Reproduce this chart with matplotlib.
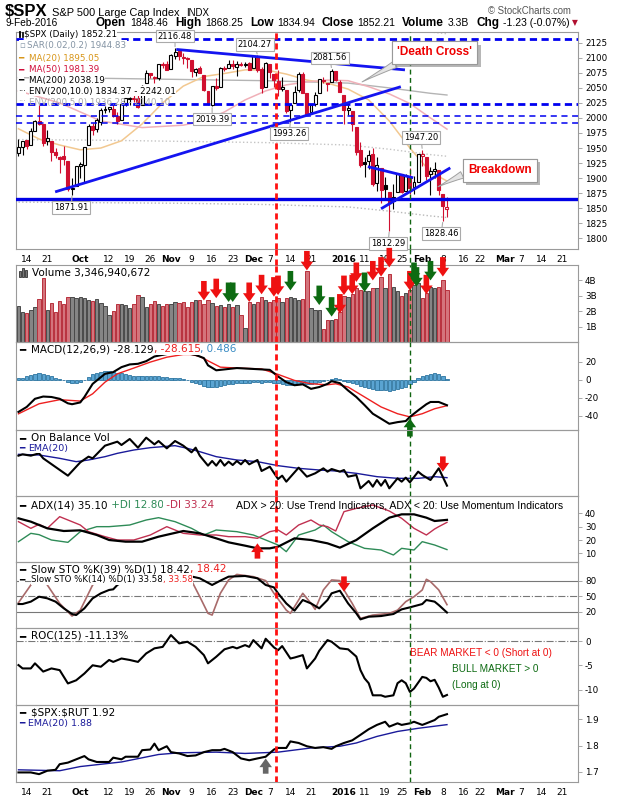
import matplotlib
matplotlib.use("Agg")
import matplotlib.pyplot as plt
import matplotlib.patheffects as pe
import matplotlib.transforms as mtransforms
from matplotlib.lines import Line2D
from matplotlib.patches import Rectangle
import numpy as np
import pandas as pd

plt.rcParams["font.family"] = ["DejaVu Sans"]
plt.rcParams["axes.unicode_minus"] = False

FIG_W, FIG_H = 620, 800
RED = "#d01030"

# trading calendar, x axis = trading day number (0 = 10 Sep 2015)
holidays = pd.to_datetime(["2015-11-26", "2015-12-25", "2016-01-01",
                           "2016-01-18", "2016-02-15", "2016-03-25"])
days = pd.bdate_range("2015-09-10", "2016-03-24")
days = days[~days.isin(holidays)]

tick_dates = ["2015-09-14", "2015-09-21", "2015-10-01", "2015-10-12", "2015-10-19",
              "2015-10-26", "2015-11-02", "2015-11-09", "2015-11-16", "2015-11-23",
              "2015-12-01", "2015-12-07", "2015-12-14", "2015-12-21", "2016-01-04",
              "2016-01-11", "2016-01-19", "2016-01-25", "2016-02-01", "2016-02-08",
              "2016-02-16", "2016-02-22", "2016-03-01", "2016-03-07", "2016-03-14",
              "2016-03-21"]
tick_labels = ["14", "21", "Oct", "12", "19", "26", "Nov", "9", "16", "23", "Dec", "7",
               "14", "21", "2016", "11", "19", "25", "Feb", "8", "16", "22", "Mar", "7",
               "14", "21"]
bold_labels = {"Oct", "Nov", "Dec", "2016", "Feb", "Mar"}

# ---- daily OHLC ----
opens = [1941.59, 1951.45, 1963.06, 1955.10, 1978.02, 1995.33, 1989.66, 1960.84, 1961.39, 1943.24,
         1934.81, 1935.93, 1929.18, 1881.90, 1887.14, 1919.65, 1921.77, 1954.33, 1986.63, 1982.34,
         1994.01, 2013.73, 2015.65, 2015.00, 2003.66, 1996.47, 2024.37, 2031.73, 2033.13, 2033.47,
         2021.88, 2058.19, 2075.08, 2068.75, 2066.48, 2088.35, 2090.00, 2080.76, 2102.63, 2110.60,
         2101.68, 2098.60, 2096.56, 2077.19, 2083.41, 2072.29, 2044.64, 2022.08, 2053.67, 2051.99,
         2083.70, 2082.82, 2089.41, 2084.42, 2089.30, 2088.82, 2090.95, 2082.93, 2101.71, 2080.71,
         2051.24, 2090.42, 2073.39, 2061.17, 2047.93, 2047.27, 2013.37, 2025.55, 2046.50, 2073.76,
         2040.81, 2010.27, 2023.15, 2042.20, 2063.52, 2057.77, 2060.54, 2077.34, 2060.59, 2038.20,
         2013.78, 2011.71, 1985.32, 1945.97, 1926.12, 1927.83, 1940.34, 1891.68, 1916.68, 1888.66,
         1876.18, 1861.46, 1877.40, 1906.28, 1878.79, 1902.52, 1885.22, 1894.00, 1936.94, 1935.26,
         1907.07, 1911.67, 1913.07, 1873.25, 1848.46]
highs = [1965.29, 1961.05, 1963.06, 1983.19, 1997.26, 2020.86, 1989.66, 1979.64, 1961.39, 1949.52,
         1937.17, 1952.89, 1929.18, 1899.48, 1920.53, 1927.21, 1951.36, 1989.17, 1991.62, 1999.31,
         2016.50, 2020.13, 2018.66, 2022.34, 2009.56, 2024.15, 2033.54, 2034.45, 2039.12, 2037.97,
         2055.20, 2079.74, 2075.14, 2070.37, 2090.35, 2092.52, 2094.32, 2106.20, 2116.48, 2114.59,
         2108.78, 2101.91, 2096.56, 2083.67, 2086.94, 2072.29, 2044.64, 2053.22, 2066.69, 2085.31,
         2086.74, 2097.06, 2095.61, 2094.12, 2093.00, 2093.29, 2093.81, 2103.37, 2104.27, 2085.00,
         2093.84, 2090.42, 2073.85, 2080.33, 2067.65, 2047.27, 2022.92, 2053.87, 2076.72, 2076.37,
         2040.81, 2022.90, 2042.74, 2064.73, 2067.36, 2057.77, 2081.56, 2077.34, 2062.54, 2038.20,
         2021.94, 2011.71, 1985.32, 1960.40, 1935.65, 1947.38, 1950.33, 1934.47, 1916.68, 1901.44,
         1876.18, 1889.85, 1908.85, 1906.28, 1906.73, 1916.99, 1902.96, 1940.24, 1947.20, 1935.26,
         1918.01, 1927.35, 1913.07, 1873.25, 1868.25]
lows = [1937.19, 1939.19, 1948.27, 1954.30, 1977.93, 1987.67, 1953.45, 1955.80, 1929.22, 1932.57,
        1908.92, 1921.50, 1879.21, 1871.91, 1887.14, 1900.70, 1893.70, 1954.33, 1971.99, 1976.44,
        1987.53, 2007.61, 2010.55, 2001.78, 1990.73, 1996.47, 2020.46, 2022.31, 2026.61, 2017.22,
        2021.88, 2058.19, 2066.53, 2058.84, 2063.11, 2082.63, 2079.34, 2080.76, 2097.51, 2096.98,
        2090.41, 2083.74, 2068.24, 2069.91, 2074.85, 2045.66, 2022.02, 2019.39, 2045.90, 2051.99,
        2078.76, 2082.82, 2081.39, 2070.29, 2086.30, 2084.13, 2080.41, 2082.93, 2077.11, 2042.35,
        2051.24, 2066.78, 2052.32, 2036.53, 2045.67, 2008.80, 1993.26, 2025.55, 2042.43, 2041.66,
        2005.33, 2005.93, 2020.49, 2042.20, 2058.73, 2044.20, 2060.54, 2061.97, 2043.62, 1989.68,
        2004.17, 1979.05, 1938.83, 1918.46, 1901.10, 1914.35, 1886.41, 1878.93, 1857.83, 1864.60,
        1812.29, 1848.98, 1877.40, 1875.97, 1878.79, 1872.70, 1873.65, 1894.00, 1920.03, 1897.29,
        1872.23, 1900.52, 1872.65, 1828.46, 1834.94]
closes = [1952.29, 1961.05, 1953.03, 1978.09, 1995.31, 1990.20, 1958.03, 1966.97, 1942.74, 1938.76,
          1932.24, 1931.34, 1881.77, 1884.09, 1920.03, 1923.82, 1951.36, 1987.05, 1979.92, 1995.83,
          2013.43, 2014.89, 2017.46, 2003.69, 1994.24, 2023.86, 2033.11, 2033.66, 2030.77, 2018.94,
          2052.51, 2075.15, 2071.18, 2065.89, 2090.35, 2089.41, 2079.36, 2104.05, 2109.79, 2102.31,
          2099.93, 2099.20, 2078.58, 2081.72, 2075.00, 2045.97, 2023.04, 2053.19, 2050.44, 2083.58,
          2081.24, 2089.17, 2086.59, 2089.14, 2088.87, 2090.11, 2080.41, 2102.63, 2079.51, 2049.62,
          2091.69, 2077.07, 2063.59, 2047.62, 2052.23, 2012.37, 2021.94, 2043.41, 2073.07, 2041.89,
          2005.55, 2021.15, 2038.97, 2064.29, 2060.99, 2056.50, 2078.36, 2063.36, 2043.94, 2012.66,
          2016.71, 1990.26, 1943.09, 1922.03, 1923.67, 1938.68, 1890.28, 1921.84, 1880.33, 1881.33,
          1859.33, 1868.99, 1906.90, 1877.08, 1903.63, 1882.95, 1893.36, 1940.24, 1939.38, 1903.03,
          1912.53, 1915.45, 1880.05, 1853.44, 1852.21]
volume_b = [2.32, 1.97, 1.86, 2.10, 2.25, 2.76, 4.15, 2.10, 2.52, 1.93,
            2.63, 2.45, 2.91, 2.91, 2.84, 2.91, 2.84, 2.73, 2.63, 2.76,
            2.54, 2.32, 1.78, 2.04, 2.50, 2.50, 2.41, 2.21, 2.45, 3.08,
            2.91, 2.25, 2.50, 2.65, 2.50, 2.36, 2.50, 2.45, 2.60, 2.55,
            2.60, 2.30, 2.60, 2.75, 2.75, 2.50, 2.75, 2.55, 2.35, 2.40,
            2.30, 2.50, 2.30, 2.40, 1.75, 0.90, 2.60, 2.45, 2.60, 2.95,
            2.75, 2.60, 2.75, 2.85, 2.60, 2.85, 2.95, 2.85, 2.75, 2.80,
            4.60, 2.20, 2.10, 2.10, 0.85, 1.45, 1.45, 1.50, 1.95, 3.00,
            2.90, 3.10, 3.50, 3.40, 3.30, 3.30, 3.50, 3.50, 4.20, 3.50,
            4.40, 3.60, 3.30, 3.00, 3.20, 3.40, 3.70, 3.85, 2.85, 3.20,
            3.55, 3.50, 3.55, 4.00, 3.40]

# ---- overlays on the price panel (day, value) ----
ma20_day = [0, 5, 10, 15, 20, 25, 30, 35, 40, 45, 50, 55, 60, 65, 70, 75, 80, 85, 90, 95, 100, 104]
ma20_val = [1982, 1965, 1955, 1947, 1950, 1962, 1990, 2025, 2053, 2069, 2074, 2080, 2080, 2073,
            2063, 2058, 2048, 2030, 1995, 1950, 1910, 1895.05]
ma50_day = [0, 10, 20, 30, 40, 45, 50, 55, 60, 65, 70, 75, 80, 85, 90, 95, 100, 104]
ma50_val = [2045, 2025, 1995, 1984, 1988, 1995, 2010, 2030, 2045, 2055, 2060, 2063, 2062, 2052,
            2040, 2024, 2000, 1981.39]
ma200_day = [0, 20, 40, 60, 80, 90, 100, 104]
ma200_val = [2067, 2066, 2064, 2062, 2058, 2050, 2041, 2038.19]
env5_lo = [1964, 1963, 1961, 1959, 1955, 1948, 1939, 1936.28]
env5_hi = [2170, 2169, 2167, 2165, 2161, 2153, 2143, 2140.10]
env10_lo = [1860, 1859, 1858, 1856, 1852, 1845, 1837, 1834.37]

dashed_levels = [2132, 2023, 2004, 1992]
dashed_widths = [2.0, 2.0, 1.1, 1.1]
support_level = 1866
trend_lines = [((38.3, 2114), (93.8, 2080)), ((8.9, 1877), (92.8, 2052)),
               ((84.8, 1919), (95.8, 1900.5)), ((88.0, 1849), (104.8, 1917))]
# (label, day, price, label day, label price)
price_tags = [("2116.48", 38, 2116.48, 38.0, 2136),
              ("2104.27", 58, 2104.27, 57.4, 2122),
              ("2081.56", 76, 2081.56, 75.6, 2100),
              ("2019.39", 47, 2019.39, 47.0, 1998),
              ("1993.26", 66, 1993.26, 65.7, 1974),
              ("1871.91", 13, 1871.91, 12.8, 1851),
              ("1812.29", 90, 1812.29, 89.7, 1791),
              ("1947.20", 98, 1947.20, 97.7, 1967.5),
              ("1828.46", 103, 1828.46, 102.6, 1808)]

# ---- volume signal arrows (day, volume B at arrow tip) ----
vol_red_day = [45, 48, 56, 59, 62, 63, 70, 78, 79, 81, 82, 86, 88, 90, 95, 99, 103]
vol_red_tip = [2.7, 2.85, 2.6, 3.1, 2.95, 3.05, 4.65, 1.85, 3.05, 3.1, 3.9, 4.0, 4.25, 4.85, 3.35, 3.1, 4.25]
vol_green_day = [51, 52, 66, 73, 76, 84, 96, 96.6, 100]
vol_green_tip = [2.6, 2.6, 3.35, 2.4, 1.65, 3.25, 3.9, 3.6, 4.0]

# ---- MACD(12,26,9) ----
macd_day = [0, 2, 4, 6, 8, 10, 12, 13, 15, 16, 18, 21, 23, 25, 27, 29, 31, 33, 36, 40, 43, 45,
            46, 48, 49, 53, 57, 61, 63, 65, 67, 69, 71, 73, 75, 76, 78, 80, 82, 84, 86, 88, 90,
            92, 94, 95, 97, 99, 100, 102, 104]
macd_val = [-35.5, -30, -21, -18.5, -19, -21, -26, -27, -25, -19, -4.5, 6.6, 8.5, 14, 17, 17.7,
            20.6, 25.8, 28.5, 30, 27.5, 24, 16, 10.5, 11, 13, 12, 11, 3.7, -2.6, -6, -5, -10, -8,
            -4.5, -1.5, -3.7, -11.8, -19, -28, -37.5, -43, -48.6, -46.8, -45.6, -41, -33.8, -27,
            -24.5, -24.5, -28.13]
signal_day = [0, 5, 10, 15, 18, 21, 24, 28, 32, 36, 40, 42, 44, 46, 49, 53, 59, 63, 67, 71, 75,
              77, 80, 84, 88, 92, 95, 98, 101, 104]
signal_val = [-37.6, -26.5, -22, -23.5, -15.5, -2.6, 6.6, 13, 19.6, 25, 28, 28, 25.8, 21, 14, 13,
              12, 6, -0.7, -4.4, -5.5, -4.4, -8, -19, -30, -37.5, -41, -37.5, -32, -28.62]
macd_hist = [1.5, 2.5, 4, 5.5, 6.5, 7, 6.5, 5.5, 4, 2.5,
             1, -0.5, -2, -3, -3, -2, 0, 3, 6, 8,
             9, 9.5, 9.5, 9, 8, 7, 6, 5, 4.5, 4,
             4, 4, 4, 4, 4, 3.5, 3, 2.5, 2, 1.5,
             0.5, -0.5, -2, -3.5, -5, -6.5, -7.5, -8, -7.5, -7,
             -6, -5, -4.5, -4, -3.5, -3, -3, -2, -2.5, -3.5,
             -2.5, -2.5, -3, -4, -4.5, -5.5, -6, -5.5, -4.5, -4,
             -5, -4.5, -3.5, -2, -1, 0, 1, 1.5, 1, -1,
             -2, -3.5, -5, -7, -8.5, -9.5, -10.5, -11, -11.5, -11.5,
             -12, -11.5, -10.5, -9, -7.5, -5, -2, 1.5, 4, 5.5,
             6.5, 7, 6.5, 4.5, 0.49]

# ---- On Balance Volume (B, arbitrary base) ----
obv_day = [0, 1, 3, 5, 6, 12, 15, 17, 18, 21, 24, 25, 27, 29, 31, 33, 34, 36, 38, 40, 42, 43, 44,
           46, 47, 48, 49, 50, 51, 52, 53, 54, 55, 56, 58, 59, 61, 63, 64, 65, 68, 70, 72, 74, 75,
           76, 78, 79, 80, 82, 83, 85, 86, 87, 88, 89, 90, 92, 93, 94, 95, 97, 98, 100, 102, 104]
obv_val = [10.8, 11.2, 10.8, 11.5, 10.0, 4.8, 8.8, 10.5, 10.0, 13.8, 15.0, 14.0, 15.8, 13.2, 16.2,
           14.2, 15.2, 13.0, 15.2, 13.8, 11.8, 13.2, 10.8, 7.8, 9.2, 7.8, 9.5, 7.8, 9.0, 8.0, 9.2,
           8.2, 9.5, 8.2, 9.5, 6.2, 7.5, 3.8, 4.8, 3.0, 7.2, 4.5, 5.5, 7.0, 6.0, 6.8, 6.0, 6.5, 4.5,
           5.0, 1.0, 3.2, 1.5, 3.5, 1.8, 3.5, 1.0, 4.0, 3.0, 4.2, 2.8, 6.0, 5.0, 3.5, 7.0, 1.8]
obv_ema_day = [0, 5, 10, 14, 17, 21, 24, 28, 32, 35, 38, 41, 44, 48, 53, 58, 63, 68, 73, 77, 82,
               87, 92, 97, 101, 104]
obv_ema_val = [11.2, 11.0, 10.0, 9.0, 9.5, 10.5, 11.5, 12.5, 13.2, 13.5, 13.8, 13.0, 12.0, 10.5,
               9.5, 9.0, 7.8, 7.0, 6.5, 6.2, 5.5, 4.5, 4.0, 4.0, 4.5, 4.2]

# ---- ADX(14) ----
adx_day = [0, 3, 7, 11, 15, 19, 22, 26, 30, 34, 40, 44, 48, 51, 55, 58, 61, 63, 67, 71, 75, 78,
           82, 86, 90, 93, 96, 99, 101, 104]
adx_val = [36.25, 33.75, 28.75, 26.75, 27.25, 23.75, 20, 18.75, 18.75, 22.5, 26.75, 25, 21.25,
           18.25, 15.75, 13.75, 13.75, 15, 21.25, 20, 17.5, 14.25, 20, 28.75, 36.75, 39.25, 39.25,
           36.75, 34.25, 35.10]
pdi_day = [0, 3, 5, 8, 12, 15, 19, 22, 27, 31, 34, 38, 42, 45, 48, 53, 57, 60, 63, 65, 68, 72,
           74, 76, 80, 84, 88, 91, 93, 96, 98, 101, 104]
pdi_val = [18.75, 25, 24, 20, 18.25, 26.25, 30, 30, 31.25, 35, 36.75, 33.75, 28.75, 23.75, 27.5,
           26.25, 23.75, 20, 16.25, 11.25, 23.75, 27.5, 31.25, 26.25, 18.75, 13.75, 12.5, 8.75,
           13.75, 12.5, 18.75, 16.25, 12.80]
mdi_day = [0, 3, 5, 7, 10, 13, 15, 17, 21, 24, 28, 32, 36, 40, 44, 48, 51, 55, 58, 61, 63, 65,
           68, 71, 73, 75, 77, 79, 82, 86, 90, 93, 96, 99, 101, 102, 104]
mdi_val = [33.75, 28.75, 31.75, 28.75, 37.5, 33.75, 31.25, 26.25, 22.5, 20, 20, 23.75, 30, 25,
           23.75, 23.75, 22.5, 22.5, 21.25, 26.25, 27.5, 23.75, 31.25, 35, 31.25, 30, 26.75,
           41.25, 43.75, 46.25, 41.75, 36.25, 28.75, 23.75, 28.25, 30, 33.24]

# ---- Slow stochastics ----
k39_day = [0, 1, 3, 5, 7, 9, 11, 13, 14, 16, 18, 20, 22, 23, 24, 27, 31, 35, 39, 42, 44, 47, 49,
           51, 55, 58, 60, 62, 63, 65, 67, 69, 71, 73, 75, 76, 78, 80, 82, 83, 85, 88, 91, 93, 95,
           98, 99, 101, 102, 104]
k39_val = [34.8, 34.8, 39.4, 49, 45.8, 39.4, 26.5, 15.5, 13.5, 26.5, 45.8, 55.5, 62, 63.2, 71.6,
           86, 92, 95, 93, 88, 84.5, 71.6, 80, 87.7, 89, 84.5, 71.6, 67, 55.5, 36, 22, 42.6, 36,
           26.5, 42.6, 55.5, 60.6, 36, 16.8, 5.2, 10.3, 11.6, 15.5, 24.5, 28.4, 34.8, 42.6, 39.4,
           32.9, 18.42]
k14_day = [0, 3, 5, 7, 10, 13, 15, 18, 21, 25, 30, 34, 39, 42, 44, 46, 47, 49, 51, 53, 57, 60,
           62, 65, 66, 68, 69, 71, 72, 74, 76, 78, 79, 81, 83, 86, 90, 92, 94, 96, 98, 99, 100,
           102, 104]
k14_val = [37.4, 71.6, 88, 71.6, 36, 11.6, 23, 71.6, 90, 95, 85, 92, 96, 80, 49, 16.8, 13.5, 55.5,
           81.3, 92, 87.7, 80, 55.5, 23, 16.8, 42.6, 55.5, 36, 24.5, 62, 81.3, 80, 62, 36, 7.1,
           13.5, 16.8, 23, 39.4, 49, 62, 82.6, 78, 62, 33.58]

# ---- ROC(125) % ----
roc_day = [0, 1, 3, 4, 6, 8, 10, 12, 14, 16, 18, 20, 22, 23, 25, 27, 29, 31, 33, 35, 37, 39, 41,
           43, 45, 46, 48, 50, 52, 53, 55, 56, 57, 59, 60, 62, 63, 64, 66, 67, 69, 70, 72, 73, 75,
           76, 78, 80, 82, 83, 84, 85, 86, 88, 89, 91, 92, 93, 94, 95, 96, 98, 99, 100, 101, 102,
           103, 104]
roc_val = [-4.96, -5.65, -5.65, -4.6, -6.3, -5.65, -6, -8.75, -8.1, -6.7, -5, -5.3, -3.9, -4.3,
           -3.6, -3.9, -4.3, -2.55, -1.5, -1.2, 1.24, -0.48, -0.14, -1.2, -2.9, -4.6, -3.24, -1.7,
           -1.2, -1.5, -0.83, -1.2, 0.2, -1.5, 0.48, -1.3, -1.9, -1.03, -3.6, -3.4, -2.9, -5.65,
           -3.6, -2.0, 0.2, -0.14, -1.5, -1.7, -3.2, -6.0, -7.7, -8.7, -11.2, -11.2, -11.5, -11.2,
           -8.7, -8.1, -8.7, -10.5, -9.8, -7.4, -7.6, -8.3, -8.0, -9.6, -11.5, -11.13]

# ---- $SPX:$RUT ratio ----
ratio_day = [0, 3, 5, 7, 9, 10, 12, 14, 16, 17, 19, 22, 23, 25, 26, 29, 30, 32, 33, 34, 36, 37,
             39, 41, 43, 45, 47, 49, 50, 52, 54, 56, 58, 60, 62, 63, 65, 66, 68, 70, 72, 74, 76,
             77, 79, 81, 83, 85, 87, 89, 90, 92, 93, 95, 96, 98, 99, 101, 102, 104]
ratio_val = [1.6975, 1.6975, 1.691, 1.704, 1.7075, 1.729, 1.735, 1.7475, 1.76, 1.7475, 1.7375,
             1.7375, 1.754, 1.7475, 1.7575, 1.7575, 1.7825, 1.785, 1.8075, 1.7825, 1.7975, 1.775,
             1.77, 1.76, 1.7625, 1.775, 1.7825, 1.7825, 1.7875, 1.775, 1.751, 1.744, 1.751,
             1.7575, 1.785, 1.791, 1.791, 1.816, 1.81, 1.7975, 1.791, 1.794, 1.7875, 1.7975, 1.81,
             1.82, 1.841, 1.8625, 1.879, 1.891, 1.8725, 1.885, 1.879, 1.885, 1.891, 1.879, 1.885,
             1.8975, 1.91, 1.92]
ratio_ema_day = [0, 10, 15, 25, 34, 39, 48, 55, 63, 71, 78, 82, 87, 92, 97, 104]
ratio_ema_val = [1.7075, 1.704, 1.72, 1.7375, 1.766, 1.7725, 1.775, 1.77, 1.775, 1.791, 1.7975,
                 1.81, 1.835, 1.854, 1.866, 1.88]

event_red_day = 62.5
event_green_day = 95

# ================================================================
fig = plt.figure(figsize=(FIG_W / 100, FIG_H / 100), dpi=100)
renderer = fig.canvas.get_renderer()


def panel(top, bottom):
    ax = fig.add_axes([16 / FIG_W, 1 - bottom / FIG_H, 562 / FIG_W, (bottom - top) / FIG_H])
    ax.set_facecolor("none")
    ax.set_xlim(-0.6, 135.8)
    for s in ax.spines.values():
        s.set_color("#9a9a9a")
        s.set_linewidth(0.8)
    ax.tick_params(axis="y", left=False, labelleft=False, right=True, labelright=True,
                   length=3, width=0.6, color="#9a9a9a", labelsize=6.3, pad=2)
    ax.tick_params(axis="x", bottom=False, labelbottom=False)
    return ax


def put(x, y, s, color="black", size=7.5, weight="normal", family="DejaVu Sans", box=True):
    t = fig.text(x / FIG_W, 1 - y / FIG_H, s, color=color, fontsize=size, weight=weight,
                 family=family, ha="left", va="center", zorder=10)
    if box:
        t.set_bbox(dict(fc="white", ec="none", pad=0.3))
    return x + t.get_window_extent(renderer).width


def row(x, y, parts, size=7.5, box=True):
    for s, c in parts:
        x = put(x, y, s, c, size, box=box)


def icon_box(x, y, w, hgt, fc, ec):
    # small legend icon drawn in figure pixels (top-left corner x, y)
    fig.add_artist(Rectangle((x / FIG_W, 1 - (y + hgt) / FIG_H), w / FIG_W, hgt / FIG_H,
                             transform=fig.transFigure, fc=fc, ec=ec, lw=0.6, zorder=11))


def arrow(ax, day, tip, color, down=True, length=14):
    ax.annotate("", xy=(day, tip), xytext=(0, length if down else -length),
                textcoords="offset points", annotation_clip=False, zorder=8,
                arrowprops=dict(arrowstyle="simple,head_length=0.7,head_width=1.0,tail_width=0.45",
                                mutation_scale=9, fc=color, ec="none", shrinkA=0, shrinkB=0))


def date_labels(ax):
    ax.set_xticks(tick_pos)
    ax.set_xticklabels(tick_labels)
    ax.tick_params(axis="x", labelbottom=True, labelsize=6.5, pad=1)
    for t in ax.get_xticklabels():
        if t.get_text() in bold_labels:
            t.set_fontweight("bold")


x = np.arange(len(closes))
o, h, l, c = (np.array(v) for v in (opens, highs, lows, closes))
prev = np.r_[np.nan, c[:-1]]
down_day = c < prev
tick_pos = [days.get_loc(pd.Timestamp(d)) for d in tick_dates]

# ---- price panel ----
ax_p = panel(32, 249)
ax_p.set_ylim(1782, 2143)
ax_p.set_yticks(np.arange(1800, 2126, 25))
ax_p.plot(ma200_day, ma200_val, color="#b4b4b4", lw=1, zorder=1)
ax_p.plot(ma200_day, env5_lo, color="#c4c4c4", lw=1, ls=":", zorder=1)
ax_p.plot(ma200_day, env5_hi, color="#c4c4c4", lw=1, ls=":", zorder=1)
ax_p.plot(ma200_day, env10_lo, color="#b8b8b8", lw=1, ls=":", zorder=1)
ax_p.plot(ma20_day, ma20_val, color="#f2c890", lw=1.1, zorder=1)
ax_p.plot(ma50_day, ma50_val, color="#f0b0b8", lw=1.1, zorder=1)

for lev, lw in zip(dashed_levels, dashed_widths):
    ax_p.axhline(lev, color="#0000f0", lw=lw, dashes=(2.6, 1.6) if lw > 1.5 else (4, 3), zorder=5)
ax_p.axhline(support_level, color="#0000e6", lw=2.4, zorder=5)
for (x0, y0), (x1, y1) in trend_lines:
    ax_p.plot([x0, x1], [y0, y1], color="#1414f0", lw=2.0, zorder=5, solid_capstyle="butt")

col = np.where(down_day, RED, "black")
ax_p.vlines(x, l, h, colors=col, lw=0.8, zorder=3)
face = np.where(c > o, "white", col)
ax_p.bar(x, np.maximum(np.abs(c - o), 0.8), 0.72, bottom=np.minimum(o, c), color=face,
         edgecolor=col, lw=0.8, zorder=4)

for txt, d, p, bd, bp in price_tags:
    ax_p.annotate(txt, xy=(d, p), xytext=(bd, bp), ha="center", va="center", fontsize=6,
                  zorder=7, annotation_clip=False,
                  bbox=dict(boxstyle="square,pad=0.2", fc="white", ec="#aaaaaa", lw=0.8),
                  arrowprops=dict(arrowstyle="-", color="#aaaaaa", lw=0.8, shrinkA=0, shrinkB=1))


def callout(text, tip, box, rel):
    a = ax_p.annotate(text, xy=tip, xytext=box, ha="center", va="center", color="#ee0000",
                      fontsize=8.5, weight="bold", family="Liberation Sans", zorder=9,
                      annotation_clip=False,
                      bbox=dict(boxstyle="square,pad=0.45", fc="white", ec="#999999", lw=0.8),
                      arrowprops=dict(arrowstyle="wedge,tail_width=0.6,shrink_factor=0.4",
                                      fc="#e4e4e4", ec="#a0a0a0", lw=0.7, relpos=rel,
                                      shrinkA=0, shrinkB=0))
    a.get_bbox_patch().set_path_effects(
        [pe.withSimplePatchShadow(offset=(2.5, -2.5), shadow_rgbFace="#888888", alpha=0.6),
         pe.Normal()])


callout("'Death Cross'", (83.4, 2060), (101.0, 2109), (0.12, 0.0))
callout("Breakdown", (101.8, 1885.5), (116.8, 1913), (0.0, 0.35))
date_labels(ax_p)

# ---- volume ----
ax_v = panel(265, 342)
ax_v.set_ylim(0, 5.0)
ax_v.set_yticks([1, 2, 3, 4])
ax_v.set_yticklabels(["1B", "2B", "3B", "4B"])
ax_v.bar(x, volume_b, 0.82, color=np.where(down_day, "#d4747c", "#858585"),
         edgecolor=np.where(down_day, "#b8303c", "#4a4a4a"), lw=0.7, zorder=2)
for d, t in zip(vol_red_day, vol_red_tip):
    arrow(ax_v, d, t, "#ee1111")
for d, t in zip(vol_green_day, vol_green_tip):
    arrow(ax_v, d, t, "#0d6b12")

# ---- MACD ----
ax_m = panel(342, 430)
ax_m.set_ylim(-55.5, 41.8)
ax_m.set_yticks([-40, -20, 0, 20])
ax_m.bar(x, macd_hist, 0.8, color="#5aa4d2", edgecolor="#2c74a0", lw=0.6, zorder=2)
ax_m.plot(signal_day, signal_val, color="#ee2020", lw=1.0, zorder=3)
ax_m.plot(macd_day, macd_val, color="black", lw=1.5, zorder=4)
arrow(ax_m, 95, -42.8, "#0d6b12", down=False, length=13)

# ---- OBV ----
ax_o = panel(430, 496)
ax_o.set_ylim(-1.3, 18.5)
ax_o.set_yticks([])
ax_o.plot(obv_ema_day, obv_ema_val, color="#1a1a9a", lw=1.0, zorder=2)
ax_o.plot(obv_day, obv_val, color="black", lw=1.5, zorder=3)
arrow(ax_o, 103, 6.0, "#ee1111", length=11)

# ---- ADX ----
ax_a = panel(496, 562)
ax_a.set_ylim(3.5, 53)
ax_a.set_yticks([10, 20, 30, 40])
ax_a.plot(pdi_day, pdi_val, color="#2e8b57", lw=1.0, zorder=2)
ax_a.plot(mdi_day, mdi_val, color="#c03050", lw=1.0, zorder=2)
ax_a.plot(adx_day, adx_val, color="black", lw=1.6, zorder=3)
arrow(ax_a, 58, 17.5, "#ee1111", down=False, length=11)

# ---- stochastics ----
ax_s = panel(562, 628)
ax_s.set_ylim(-11.5, 116)
ax_s.set_yticks([20, 50, 80])
ax_s.axhline(80, color="#777777", lw=0.8, zorder=1)
ax_s.axhline(20, color="#777777", lw=0.8, zorder=1)
ax_s.axhline(50, color="#777777", lw=0.8, ls="-.", zorder=1)
ax_s.plot(k14_day, k14_val, color="#a86a6a", lw=1.2, zorder=2)
ax_s.plot(k39_day, k39_val, color="black", lw=1.5, zorder=3)
arrow(ax_s, 79, 58.7, "#ee1111", length=11)

# ---- ROC ----
ax_r = panel(628, 705)
ax_r.set_ylim(-13.2, 2.7)
ax_r.set_yticks([-10, -5, 0])
ax_r.axhline(0, color="#777777", lw=0.8, ls="-.", zorder=1)
ax_r.plot(roc_day, roc_val, color="black", lw=1.5, zorder=3)

# ---- SPX:RUT ----
ax_q = panel(705, 782)
ax_q.set_ylim(1.661, 1.955)
ax_q.set_yticks([1.7, 1.8, 1.9])
ax_q.set_yticklabels(["1.7", "1.8", "1.9"])
ax_q.plot(ratio_ema_day, ratio_ema_val, color="#1a1a9a", lw=1.0, zorder=2)
ax_q.plot(ratio_day, ratio_val, color="black", lw=1.5, zorder=3)
arrow(ax_q, 60, 1.751, "#666666", down=False, length=11)
date_labels(ax_q)

# ---- event lines through every panel ----
for ax in (ax_p, ax_v, ax_m, ax_o, ax_a, ax_s, ax_r, ax_q):
    ax.axvline(event_red_day, color="#ff1010", lw=2.0, dashes=(2.2, 1.4), zorder=6)
    ax.axvline(event_green_day, color="#106410", lw=1.0, dashes=(3.5, 2.5), zorder=6)
tr = mtransforms.blended_transform_factory(ax_p.transData, fig.transFigure)
fig.add_artist(Line2D([event_red_day] * 2, [1 - 249 / FIG_H, 1 - 265 / FIG_H], transform=tr,
                      color="#ff1010", lw=2.0, dashes=(2.2, 1.4)))
fig.add_artist(Line2D([event_green_day] * 2, [1 - 249 / FIG_H, 1 - 265 / FIG_H], transform=tr,
                      color="#106410", lw=1.0, dashes=(3.5, 2.5)))

# ---- header ----
xx = put(5, 12, "$SPX", size=12, weight="bold", family="Liberation Sans", box=False)
xx = put(xx + 4, 12.5, "S&P 500 Large Cap Index", size=7.9, family="Liberation Sans", box=False)
put(xx + 7, 12.5, "INDX", size=7.0, family="Liberation Sans", box=False)
put(488, 11, "\u00a9 StockCharts.com", color="#555555", size=6.9, family="Liberation Sans", box=False)
put(5, 23, "9-Feb-2016", size=7.3, family="Liberation Sans", box=False)
for start, pairs in [(96, [("Open", "1848.46"), ("High", "1868.25"), ("Low", "1834.94")]),
                     (321, [("Close", "1852.21"), ("Volume", "3.3B"), ("Chg", "-1.23 (-0.07%)")])]:
    xx = start
    for lab, val in pairs:
        xx = put(xx, 23, lab, size=8.5, weight="bold", family="Liberation Sans", box=False) + 4
        xx = put(xx, 23, val, size=7.5, family="Liberation Sans", box=False) + 7
put(572, 23, "\u25bc", color="#b01030", size=5.5, box=False)

# ---- legends ----
PL = 6.3
row(24, 34.7, [("$SPX (Daily) 1852.21", "black")], PL)
icon_box(18.5, 31, 1.8, 6, "black", "black")
icon_box(21.5, 32, 1.8, 5, "white", "black")
put(19, 45.3, "\u25ab", "#8899aa", PL)
row(27, 45.3, [("SAR(0.02,0.2) 1944.83", "#8494a4")], PL)
for yy, s, cc in [(58, "MA(20) 1895.05", "#d8961a"), (69.7, "MA(50) 1981.39", "#d0103c"),
                  (80.3, "MA(200) 2038.19", "black")]:
    put(18, yy, "\u2501", cc, PL)
    put(29, yy, s, cc, PL)
put(18, 91.3, "\u00b7\u00b7\u00b7", "black", PL)
put(29, 91.3, "ENV(200,10.0) 1834.37 - 2242.01", "black", PL)
put(18, 102, "\u00b7\u00b7\u00b7", "#aaaaaa", PL, box=False)
put(29, 102, "ENV(200,5.0) 1936.28 - 2140.10", "#aaaaaa", PL, box=False)

put(32, 272.7, "Volume 3,346,940,672", "black", 7.5)
icon_box(19, 271, 2, 6, "#777777", "#333333")
icon_box(22, 268, 2, 9, "#777777", "#333333")
icon_box(25, 270, 2, 7, "#777777", "#333333")
put(19, 349.3, "\u2501", "black", 7.5)
row(31, 349.3, [("MACD(12,26,9) -28.129", "black"), (", -28.615", "#ee2020"), (", 0.486", "#3a8cc4")])
put(19, 437.7, "\u2501", "black", 7.5)
put(31, 437.7, "On Balance Vol", "black", 7.5)
put(19, 448.3, "\u2501", "#1a1a9a", 6.5)
put(28, 448.3, "EMA(20)", "#1a1a9a", 6.8)
put(19, 505, "\u2501", "black", 7.5)
row(31, 505, [("ADX(14) 35.10", "black"), (" +DI 12.80", "#2e8b57"), (" -DI 33.24", "#c03050")])
put(236, 505, "ADX > 20: Use Trend Indicators, ADX < 20: Use Momentum Indicators", "black", 7.6,
    family="Liberation Sans", box=False)
put(19, 569.3, "\u2501", "black", 7.5)
row(31, 569.3, [("Slow STO %K(39) %D(1) 18.42", "black"), (", 18.42", "#ee2020")])
put(19, 579.8, "\u2501", "black", 6.5)
row(31, 579.8, [("Slow STO %K(14) %D(1) 33.58", "black"), (", 33.58", "#ee2020")], 6.2)
put(19, 636, "\u2501", "black", 7.5)
put(31, 636, "ROC(125) -11.13%", "black", 7.5)
put(19, 712.3, "\u2501", "black", 7.5)
put(31, 712.3, "\\$SPX:\\$RUT 1.92", "black", 7.5)
put(19, 723.3, "\u2501", "#1a1a9a", 6.5)
put(28, 723.3, "EMA(20) 1.88", "#1a1a9a", 6.8)

put(410, 653, "BEAR MARKET < 0 (Short at 0)", "#ee1111", 7.2, family="Liberation Sans", box=False)
put(452, 668.5, "BULL MARKET > 0", "#0d6b12", 7.2, family="Liberation Sans", box=False)
put(452, 684.5, "(Long at 0)", "#0d6b12", 7.2, family="Liberation Sans", box=False)

fig.savefig("out.png", dpi=100)
